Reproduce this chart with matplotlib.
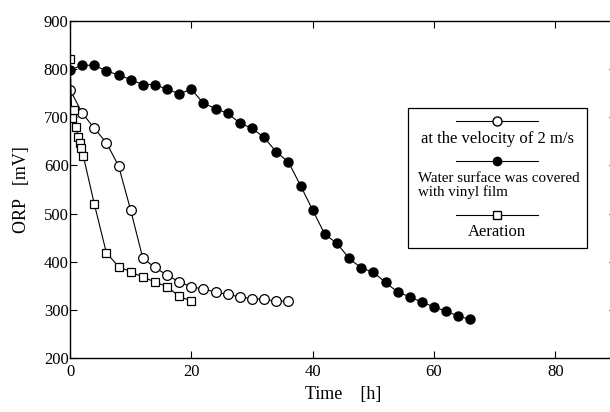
import matplotlib
matplotlib.use("Agg")
import matplotlib.pyplot as plt
from matplotlib.lines import Line2D
from matplotlib.patches import Rectangle

plt.rcParams["font.family"] = ["Liberation Serif", "DejaVu Serif"]

# %%
# data
t_velocity = list(range(0, 37, 2))
orp_velocity = [757, 709, 677, 647, 599, 507, 407, 388, 372, 358, 348, 343,
                337, 332, 327, 323, 322, 318, 318]

t_vinyl = list(range(0, 67, 2))
orp_vinyl = [798, 808, 808, 796, 788, 778, 768, 768, 758, 749, 758, 729,
             718, 708, 688, 677, 658, 628, 607, 558, 507, 457, 438, 407,
             387, 378, 357, 337, 327, 316, 306, 297, 287, 280]

t_aeration = [0, 0.3, 0.7, 1.0, 1.3, 1.6, 1.8, 2.2, 4, 6, 8, 10, 12, 14,
              16, 18, 20]
orp_aeration = [820, 698, 716, 679, 660, 646, 637, 619, 520, 418, 390, 379,
                368, 358, 348, 328, 318]

x_ticks = [0, 20, 40, 60, 80]
y_ticks = [200, 300, 400, 500, 600, 700, 800, 900]

# %%
fig = plt.figure(figsize=(6.1, 4.12), dpi=100)
ax = fig.add_axes([0.1148, 0.1311, 0.8951, 0.8180])

line_kw = dict(color="black", lw=0.8)
ax.plot(t_velocity, orp_velocity, marker="o", ms=7, mfc="white",
        mec="black", mew=0.9, **line_kw)
ax.plot(t_vinyl, orp_vinyl, marker="o", ms=6.5, mfc="black",
        mec="black", **line_kw)
ax.plot(t_aeration, orp_aeration, marker="s", ms=6.2, mfc="white",
        mec="black", mew=0.9, **line_kw)

ax.set_xlim(0, 90)
ax.set_ylim(200, 900)
ax.set_xticks(x_ticks)
ax.set_yticks(y_ticks)
ax.tick_params(direction="in", length=5, width=0.8, labelsize=12,
               top=True, right=True)
ax.tick_params(axis="x", pad=4)
ax.tick_params(axis="y", pad=1)
for s in ax.spines.values():
    s.set_linewidth(1.0)
ax.spines["right"].set_visible(False)

ax.set_xlabel("Time    [h]", fontsize=13, labelpad=5)
ax.set_ylabel("ORP   [mV]", fontsize=13, labelpad=10)

# legend drawn as in the original: sample line above centred text
tr = ax.transAxes
ax.add_patch(Rectangle((0.619, 0.326), 0.328, 0.416, transform=tr,
                       fill=False, lw=0.9, ec="black", zorder=5))
samples = [
    (0.703, dict(marker="o", ms=6.5, mfc="white", mec="black")),
    (0.585, dict(marker="o", ms=6, mfc="black", mec="black")),
    (0.424, dict(marker="s", ms=6, mfc="white", mec="black")),
]
for y, mk in samples:
    ax.add_line(Line2D([0.707, 0.857], [y, y], transform=tr, color="black",
                       lw=0.8, zorder=6))
    ax.add_line(Line2D([0.782], [y], transform=tr, ls="none", zorder=7, **mk))

ax.text(0.782, 0.650, "at the velocity of 2 m/s", transform=tr,
        ha="center", va="center", fontsize=12)
ax.text(0.637, 0.512, "Water surface was covered\nwith vinyl film",
        transform=tr, ha="left", va="center", fontsize=10.8, linespacing=1.0)
ax.text(0.782, 0.374, "Aeration", transform=tr, ha="center", va="center",
        fontsize=12)

fig.savefig("out.png", dpi=100)
